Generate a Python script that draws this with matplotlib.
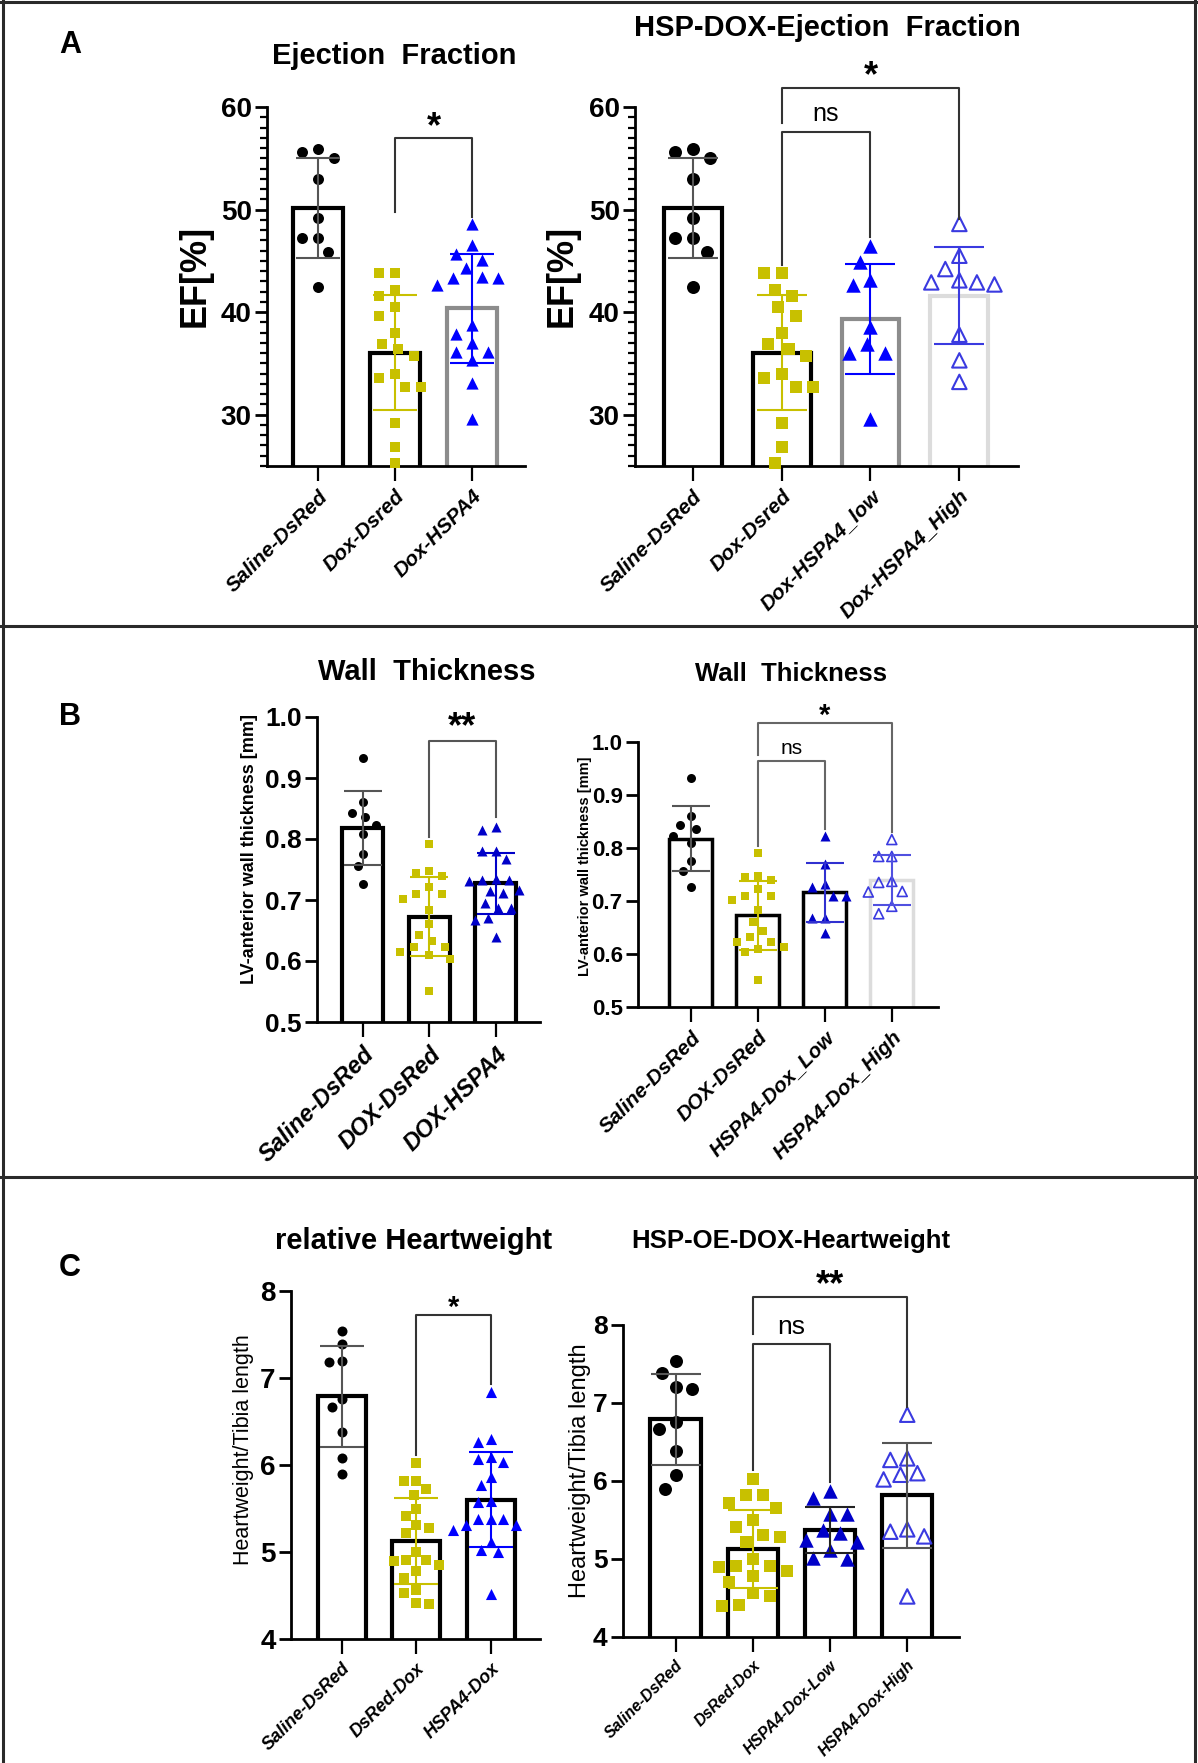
import numpy as np
import matplotlib
matplotlib.use("Agg")
import matplotlib.pyplot as plt
from matplotlib.ticker import MultipleLocator
from matplotlib.lines import Line2D

plt.rcParams['font.family'] = ['Liberation Sans', 'DejaVu Sans']

# ---- data ----
ef_saline = [55.6, 55.9, 55.0, 53.0, 49.2, 47.2, 47.2, 45.9, 42.5]
ef_dox = [43.8, 43.8, 42.2, 41.6, 40.5, 39.6, 38.0, 36.9, 36.4, 35.7, 34.0, 33.6,
          32.7, 32.7, 29.2, 26.9, 25.3]
ef_hspa4 = [48.6, 46.5, 45.7, 45.1, 44.3, 43.4, 43.3, 43.3, 42.6, 38.7, 37.9, 37.0,
            36.1, 36.1, 35.3, 33.1, 29.6]
ef_low = [46.4, 44.9, 43.1, 42.6, 38.6, 36.9, 36.0, 36.0, 29.6]
ef_high = [48.6, 45.5, 44.2, 43.1, 42.9, 42.9, 42.7, 37.8, 35.3, 33.2]

wt_saline = [0.932, 0.860, 0.843, 0.836, 0.823, 0.809, 0.776, 0.756, 0.726]
wt_dox = [0.791, 0.748, 0.745, 0.740, 0.722, 0.710, 0.710, 0.702, 0.683, 0.660,
          0.643, 0.632, 0.623, 0.623, 0.614, 0.610, 0.603, 0.551]
wt_hspa4 = [0.820, 0.815, 0.781, 0.781, 0.768, 0.735, 0.733, 0.733, 0.731, 0.716,
            0.715, 0.712, 0.695, 0.687, 0.687, 0.670, 0.668, 0.640]
wt_low = [0.822, 0.769, 0.732, 0.726, 0.710, 0.710, 0.668, 0.668, 0.640]
wt_high = [0.816, 0.784, 0.784, 0.737, 0.735, 0.718, 0.717, 0.690, 0.676]

hw_saline = [7.54, 7.39, 7.20, 7.18, 6.76, 6.67, 6.38, 6.08, 5.90]
hw_dox = [6.02, 5.82, 5.82, 5.72, 5.65, 5.50, 5.41, 5.31, 5.28, 5.22, 5.00, 4.91,
          4.91, 4.90, 4.85, 4.78, 4.70, 4.56, 4.53, 4.41, 4.40]
hw_hspa4 = [6.84, 6.30, 6.26, 6.09, 6.07, 6.03, 5.86, 5.77, 5.59, 5.57, 5.38, 5.38,
            5.38, 5.31, 5.31, 5.25, 5.12, 5.02, 5.00, 4.52]
hw_low = [5.87, 5.78, 5.58, 5.58, 5.37, 5.33, 5.24, 5.22, 5.12, 5.01, 5.00]
hw_high = [6.85, 6.29, 6.27, 6.10, 6.08, 6.02, 5.38, 5.35, 5.29, 4.52]

labels_a1 = ['Saline-DsRed', 'Dox-Dsred', 'Dox-HSPA4']
labels_a2 = ['Saline-DsRed', 'Dox-Dsred', 'Dox-HSPA4_low', 'Dox-HSPA4_High']
labels_b1 = ['Saline-DsRed', 'DOX-DsRed', 'DOX-HSPA4']
labels_b2 = ['Saline-DsRed', 'DOX-DsRed', 'HSPA4-Dox_Low', 'HSPA4-Dox_High']
labels_c1 = ['Saline-DsRed', 'DsRed-Dox', 'HSPA4-Dox']
labels_c2 = ['Saline-DsRed', 'DsRed-Dox', 'HSPA4-Dox-Low', 'HSPA4-Dox-High']

YEL = '#c8c000'
BLUE = '#0000ff'
DBLUE = '#0000c8'
OBLUE = '#3a3ae0'

W, H = 1198, 1763
fig = plt.figure(figsize=(W / 100, H / 100), dpi=100)


def add_ax(l, t, r, b):
    return fig.add_axes([l / W, 1 - b / H, (r - l) / W, (b - t) / H])


def swarm(vals, ax, d):
    # simple beeswarm: x offsets (data units) so that points d px apart don't collide
    bb = ax.get_position()
    x0, x1 = ax.get_xlim()
    y0, y1 = ax.get_ylim()
    xpx = bb.width * W / (x1 - x0)
    ypx = bb.height * H / (y1 - y0)
    ys = np.asarray(vals, float) * ypx
    xs = np.zeros(len(ys))
    placed = []
    for i in np.argsort(-ys, kind='stable'):
        found = None
        for k in range(80):
            cands = [0.0] if k == 0 else [-k * d * 0.2, k * d * 0.2]
            for c in cands:
                if all((c - px) ** 2 + (ys[i] - py) ** 2 >= d ** 2 for px, py in placed):
                    found = c
                    break
            if found is not None:
                break
        xs[i] = found
        placed.append((found, ys[i]))
    return xs / xpx


def panel(ax, groups, names, xlim, ylim, yticks, ytl, styles, edges, errc, d,
          bar_w, bar_lw, sp_lw, ytfs, xtfs, minor=None, cap=16, mlw=1.5, spread=1.45):
    ax.set_xlim(xlim)
    ax.set_ylim(ylim)
    for s in ['top', 'right']:
        ax.spines[s].set_visible(False)
    for s in ['left', 'bottom']:
        ax.spines[s].set_linewidth(sp_lw)
    x = np.arange(len(groups))
    means = [np.mean(g) for g in groups]
    sds = [np.std(g, ddof=1) for g in groups]
    ax.bar(x, means, width=bar_w, color='white', edgecolor=edges, linewidth=bar_lw, zorder=2)
    for i, g in enumerate(groups):
        m, fc, ec = styles[i]
        xo = swarm(g, ax, d * spread) + i
        sz = (d * 0.72) ** 2 if m == 'o' else (d * 0.66) ** 2 if m == 's' else (d * 0.8) ** 2
        ax.scatter(xo, g, marker=m, s=sz, facecolors=fc, edgecolors=ec,
                   linewidths=mlw if fc == 'none' else 0, zorder=3, clip_on=False)
        ax.errorbar(i, means[i], yerr=sds[i], color=errc[i], capsize=cap, lw=1.5,
                    capthick=1.5, zorder=4)
    ax.set_xticks(x)
    ax.set_xticklabels(names, rotation=45, ha='right', va='top', rotation_mode='anchor',
                       fontsize=xtfs, fontweight='bold', fontstyle='italic')
    ax.tick_params(axis='x', length=11, width=sp_lw * 0.8, pad=4)
    ax.set_yticks(yticks)
    ax.set_yticklabels(ytl, fontsize=ytfs, fontweight='bold')
    ax.tick_params(axis='y', length=9, width=sp_lw, pad=2)
    if minor:
        ax.yaxis.set_minor_locator(MultipleLocator(minor))
        ax.tick_params(axis='y', which='minor', length=5, width=sp_lw * 0.8)


def bracket(ax, x1, x2, ytop, yl1, yl2, txt, ty, fs, color='#333333', weight='bold'):
    ax.plot([x1, x1, x2, x2], [yl1, ytop, ytop, yl2], color=color, lw=1.5, clip_on=False, zorder=5)
    ax.text((x1 + x2) / 2, ty, txt, ha='center', va='center', fontsize=fs,
            fontweight=weight, clip_on=False)


sal = ('o', 'black', 'black')
dox = ('s', YEL, YEL)
hsp = ('^', BLUE, BLUE)
hspd = ('^', DBLUE, DBLUE)
high = ('^', 'none', OBLUE)

# ---- A ----
ax = add_ax(267, 107, 525, 466)
panel(ax, [ef_saline, ef_dox, ef_hspa4], labels_a1, (-0.67, 2.69), (25, 60),
      [30, 40, 50, 60], ['30', '40', '50', '60'], [sal, dox, hsp],
      ['black', 'black', '#8c8c8c'], ['#555555', YEL, BLUE], 11, 0.65, 3, 2, 20, 15,
      minor=1, cap=16)
bracket(ax, 1, 2, 57.0, 49.8, 49.3, '*', 58.0, 26)

ax = add_ax(635, 107, 1018, 466)
panel(ax, [ef_saline, ef_dox, ef_low, ef_high], labels_a2, (-0.65, 3.66), (25, 60),
      [30, 40, 50, 60], ['30', '40', '50', '60'], [sal, dox, hsp, high],
      ['black', 'black', '#8c8c8c', '#dcdcdc'], ['#555555', YEL, BLUE, OBLUE], 13, 0.65,
      3, 2, 20, 15, minor=1, cap=18, spread=1.35)
bracket(ax, 1, 2, 57.6, 44.6, 47.3, 'ns', 59.3, 18, weight='normal')
bracket(ax, 1, 3, 61.9, 58.4, 49.1, '*', 63.0, 26)

# ---- B ----
ax = add_ax(317, 717, 540, 1022)
panel(ax, [wt_saline, wt_dox, wt_hspa4], labels_b1, (-0.69, 2.67), (0.5, 1.0),
      [0.5, 0.6, 0.7, 0.8, 0.9, 1.0], ['0.5', '0.6', '0.7', '0.8', '0.9', '1.0'],
      [sal, dox, hspd], ['black'] * 3, ['#555555', YEL, DBLUE], 9, 0.62, 3, 2, 19, 17,
      cap=14)
bracket(ax, 1, 2, 0.961, 0.804, 0.836, '**', 0.982, 26, color='#555555')

ax = add_ax(638, 742, 938, 1007)
panel(ax, [wt_saline, wt_dox, wt_low, wt_high], labels_b2, (-0.79, 3.69), (0.5, 1.0),
      [0.5, 0.6, 0.7, 0.8, 0.9, 1.0], ['0.5', '0.6', '0.7', '0.8', '0.9', '1.0'],
      [sal, dox, hspd, high], ['black', 'black', 'black', '#dcdcdc'],
      ['#555555', YEL, '#3030d0', '#5050e0'], 9, 0.64, 2.5, 2, 16, 15, cap=14, mlw=1.2)
bracket(ax, 1, 2, 0.964, 0.803, 0.835, 'ns', 0.987, 15, color='#666666', weight='normal')
bracket(ax, 1, 3, 1.036, 0.976, 0.831, '*', 1.050, 21, color='#666666')

# ---- C ----
ax = add_ax(291, 1291, 540, 1639)
panel(ax, [hw_saline, hw_dox, hw_hspa4], labels_c1, (-0.68, 2.66), (4, 8),
      [4, 5, 6, 7, 8], ['4', '5', '6', '7', '8'], [sal, dox, hsp],
      ['black'] * 3, ['#555555', YEL, BLUE], 10, 0.64, 3, 2, 20, 13, cap=16, spread=1.25)
bracket(ax, 1, 2, 7.72, 6.11, 6.93, '*', 7.81, 21)

ax = add_ax(623, 1325, 959, 1637)
panel(ax, [hw_saline, hw_dox, hw_low, hw_high], labels_c2, (-0.68, 3.67), (4, 8),
      [4, 5, 6, 7, 8], ['4', '5', '6', '7', '8'], [sal, dox, hspd, high],
      ['black'] * 4, ['#555555', YEL, '#222222', '#555555'], 13, 0.65, 3, 2, 19, 11.5,
      cap=18, spread=1.3)
bracket(ax, 1, 2, 7.76, 6.14, 5.99, 'ns', 7.97, 19, weight='normal')
bracket(ax, 1, 3, 8.36, 7.89, 6.95, '**', 8.50, 26)


# ---- figure text ----
def ftext(x, y, s, **kw):
    fig.text(x / W, 1 - y / H, s, ha='center', va='center', **kw)


for letter, yy in [('A', 45), ('B', 717), ('C', 1268)]:
    ftext(70, yy, letter, fontsize=22, fontweight='bold')

ftext(394, 56, 'Ejection  Fraction', fontsize=21, fontweight='bold')
ftext(827, 28, 'HSP-DOX-Ejection  Fraction', fontsize=21, fontweight='bold')
ftext(427, 672, 'Wall  Thickness', fontsize=21, fontweight='bold')
ftext(791, 674, 'Wall  Thickness', fontsize=18.5, fontweight='bold')
ftext(414, 1241, 'relative Heartweight', fontsize=21, fontweight='bold')
ftext(791, 1241, 'HSP-OE-DOX-Heartweight', fontsize=18.5, fontweight='bold')

ftext(195, 276, 'EF[%]', fontsize=26, fontweight='bold', rotation=90)
ftext(562, 276, 'EF[%]', fontsize=26, fontweight='bold', rotation=90)
ftext(250, 849, 'LV-anterior wall thickness [mm]', fontsize=13, fontweight='bold', rotation=90)
ftext(585, 866, 'LV-anterior wall thickness [mm]', fontsize=10.5, fontweight='bold', rotation=90)
ftext(243, 1450, 'Heartweight/Tibia length', fontsize=15.5, rotation=90)
ftext(580, 1471, 'Heartweight/Tibia length', fontsize=17, rotation=90)

# frame and separators
for xs, ys in [([3, 3], [0, H]), ([1195, 1195], [0, H]), ([0, W], [2, 2]),
               ([0, W], [626, 626]), ([0, W], [1177, 1177])]:
    fig.add_artist(Line2D([v / W for v in xs], [1 - v / H for v in ys], color='#2a2a2a',
                          lw=2.2, transform=fig.transFigure))

fig.savefig('out.png', dpi=100)
